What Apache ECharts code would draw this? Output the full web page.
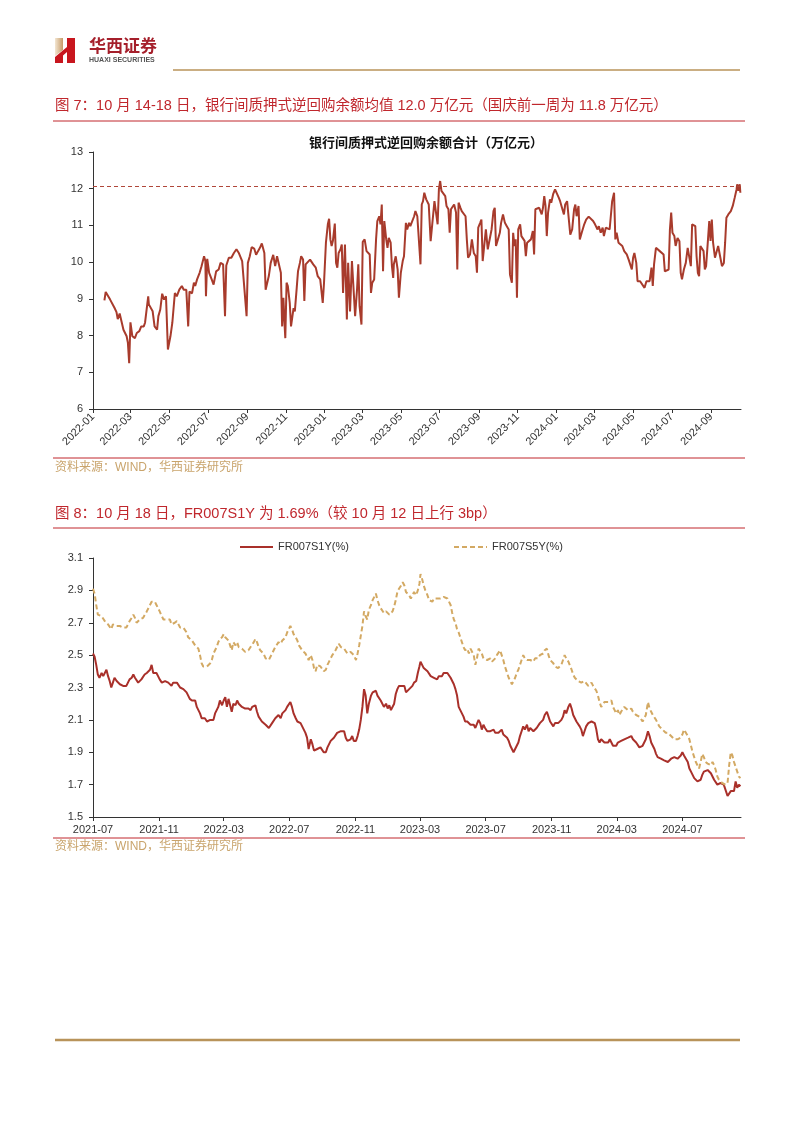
<!DOCTYPE html>
<html><head><meta charset="utf-8">
<script src="https://cdn.jsdelivr.net/npm/echarts@6/dist/echarts.min.js"></script>
<style>html,body{margin:0;padding:0;background:#fff}#c{width:802px;height:1133px}</style>
</head><body><div id="c"></div>
<script>
// ---------- Figure 7: interbank pledged reverse repo balance (trillion yuan) ----------
// day offsets since 2022-01-01
const days1 = [
18,20,27,34,37,39,42,44,48,50,
53,55,57,59,62,66,69,73,76,80,
82,85,87,88,91,94,97,101,103,106,
109,112,115,118,122,125,129,132,136,140,
143,147,150,152,156,159,161,164,168,171,
175,177,178,180,183,187,190,194,198,201,
205,208,210,214,218,222,226,230,235,238,
242,244,247,250,254,257,260,263,266,270,
272,277,280,284,287,290,292,296,298,300,
302,303,305,307,310,312,316,318,321,323,
326,328,331,333,335,338,342,345,347,351,
354,358,360,362,364,367,370,372,374,376,
378,381,383,385,387,390,392,394,397,400,
402,405,408,411,413,416,418,420,423,425,
428,431,433,436,438,440,443,446,448,451,
453,455,457,459,462,464,466,469,471,473,
474,477,480,482,485,488,490,493,495,498,
500,502,506,508,511,514,516,518,520,522,
525,527,529,532,535,538,540,543,545,547,
549,552,555,557,560,562,564,567,569,572,
574,576,579,581,584,587,589,591,594,597,
600,603,605,607,610,612,614,617,619,622,
625,628,631,633,635,638,641,643,646,649,
652,655,657,660,662,664,666,668,670,673,
675,677,680,682,684,687,690,693,695,697,
700,703,705,707,709,711,713,715,717,720,
722,725,728,731,734,736,739,742,744,747,
750,752,755,758,760,762,765,767,770,774,
777,781,784,788,791,795,797,800,803,805,
808,810,814,817,818,821,823,825,828,831,
834,837,841,844,846,849,851,853,856,858,
862,865,869,872,875,877,880,882,884,887,
890,893,896,899,901,904,907,909,911,913,
916,918,921,924,926,928,931,934,937,939,
942,944,946,949,951,953,955,957,960,962,
964,966,969,971,973,975,977,980,983,985,
988,991,994,996,998,1001,1005,1008,1011,1014,
1015,1017,1019,1020];
const repoBalance = [
8.96,9.19,8.98,8.75,8.64,8.45,8.60,8.59,8.16,8.12,
7.98,7.80,7.25,8.36,7.98,7.93,8.07,8.12,8.25,8.25,
8.35,8.39,9.07,8.85,8.89,8.66,8.25,8.16,8.53,8.71,
9.14,8.98,9.07,7.62,7.98,8.35,9.16,9.07,9.25,9.35,
9.25,9.25,8.25,9.20,9.15,9.44,9.35,9.53,9.71,9.89,
10.16,10.03,9.07,10.09,9.71,9.53,9.39,9.75,9.80,9.98,
9.94,8.53,9.91,10.12,10.12,10.25,10.35,10.24,10.03,9.98,
8.53,9.98,10.16,10.41,10.37,10.20,10.30,10.39,10.51,10.25,
9.25,9.62,9.98,10.20,9.89,10.16,10.16,9.71,8.25,9.03,
8.25,7.93,9.44,9.35,8.89,8.25,8.75,8.66,9.30,9.75,
9.98,10.16,10.07,8.94,9.94,9.94,10.07,10.03,9.94,9.85,
9.62,9.53,9.48,8.89,9.44,10.53,11.03,11.18,10.62,10.44,
10.58,11.05,9.98,9.85,10.25,10.35,10.48,9.16,10.48,8.44,
9.98,8.66,10.03,10.00,8.53,9.25,9.94,8.80,8.30,10.55,
10.62,10.30,10.35,10.21,9.16,9.44,9.53,10.62,11.12,11.25,
11.03,11.57,9.75,11.12,10.62,10.39,10.66,10.53,9.89,9.57,
9.94,10.16,9.80,9.03,9.71,10.03,10.16,11.07,10.89,11.07,
10.98,11.03,11.25,11.39,11.25,11.30,9.94,11.57,11.66,11.89,
11.71,11.71,11.57,10.57,10.62,11.66,11.71,11.03,11.98,12.21,
11.94,11.89,11.80,11.53,11.44,10.80,11.44,11.48,11.57,11.35,
9.80,11.62,11.48,11.39,11.44,11.25,10.62,10.12,10.21,10.62,
10.25,10.16,9.71,10.94,11.07,11.16,10.03,10.03,10.89,10.35,
10.30,10.89,11.39,11.48,10.44,10.62,10.80,11.07,11.30,11.07,
10.98,10.89,9.66,9.44,10.80,10.44,10.62,9.03,10.89,11.03,
10.71,10.71,10.58,10.16,10.53,10.53,10.62,10.85,10.21,11.44,
11.48,11.48,11.39,11.30,11.48,11.80,11.53,10.71,11.35,11.71,
11.62,11.85,11.98,11.94,11.75,11.66,11.66,11.30,11.57,11.66,
11.71,10.75,10.89,11.44,11.57,11.25,11.53,10.62,10.80,11.03,
11.16,11.24,11.21,11.12,11.03,10.89,10.98,10.80,10.94,10.71,
10.94,10.91,10.89,10.89,11.66,11.89,10.62,10.80,10.53,10.53,
10.44,10.30,10.21,10.07,10.03,9.80,10.12,10.25,9.98,9.48,
9.48,9.53,9.30,9.48,9.53,9.48,9.85,9.35,9.94,10.39,
10.35,10.30,10.25,10.21,9.75,9.75,9.80,10.89,11.35,10.80,
10.71,10.44,10.66,10.57,9.71,9.53,9.80,9.98,10.39,10.44,
9.89,11.03,10.98,10.98,10.16,9.71,9.62,10.44,10.39,10.30,
9.80,9.89,10.62,11.12,10.58,11.16,10.53,10.12,10.07,10.44,
10.44,9.89,9.98,10.53,11.21,11.30,11.39,11.53,11.75,11.98,
12.12,11.94,12.12,11.89];
const refLevel = 12.07;

// ---------- Figure 8: FR007 swap rates (%) ----------
// day offsets since 2021-07-01
const days2 = [
0,3,6,9,12,16,19,22,25,28,
31,34,37,40,44,47,50,53,56,59,
62,65,68,72,75,78,81,84,87,90,
93,96,100,103,106,109,112,115,118,121,
124,128,131,134,137,140,143,146,149,152,
156,159,162,165,168,171,174,177,180,184,
187,190,193,196,199,202,205,208,212,215,
218,221,224,227,230,233,236,240,243,246,
249,252,255,258,261,265,268,271,274,277,
280,283,286,289,293,296,299,302,305,308,
311,314,317,321,324,327,330,333,336,339,
342,345,349,352,355,358,361,364,367,370,
373,377,380,383,386,389,392,395,398,401,
405,408,411,414,417,420,423,426,429,433,
436,439,442,445,448,451,454,457,461,464,
467,470,473,476,479,482,485,489,492,495,
498,501,504,507,510,513,517,520,523,526,
529,532,535,538,541,545,548,551,554,557,
560,563,566,569,573,576,579,582,585,588,
591,594,597,601,604,607,
609,612,615,618,622,625,628,631,634,637,
640,643,646,649,652,655,659,662,665,668,
671,674,677,680,683,686,689,692,696,699,
702,705,708,711,714,717,720,723,726,729,
733,736,739,742,745,748,751,754,757,760,
763,766,770,773,776,779,782,785,788,791,
794,797,800,803,807,810,813,816,819,822,
825,828,831,834,837,840,844,847,850,853,
856,859,862,865,868,871,874,877,880,884,
887,890,893,896,899,902,905,908,911,914,
917,921,924,927,930,933,936,939,942,945,
948,951,954,958,961,964,967,970,973,976,
979,982,985,988,991,995,998,1001,1004,1007,
1010,1013,1016,1019,1022,1025,1028,1032,1035,1038,
1041,1044,1047,1050,1053,1056,1059,1062,1065,1069,
1072,1075,1078,1081,1084,1087,1090,1093,1096,1099,
1102,1106,1109,1112,1115,1118,1121,1124,1127,1130,
1133,1136,1139,1143,1146,1149,1152,1155,1158,1161,
1164,1167,1170,1173,1176,1180,1183,1186,1189,1192,
1195,1198,1201,1204];
const fr007s1y = [
2.51,2.49,2.44,2.38,2.36,2.39,2.37,2.38,2.41,2.37,
2.34,2.30,2.33,2.36,2.34,2.35,2.32,2.33,2.31,2.30,
2.31,2.33,2.35,2.36,2.38,2.36,2.35,2.33,2.34,2.35,
2.36,2.38,2.39,2.39,2.41,2.44,2.39,2.40,2.39,2.37,
2.35,2.33,2.34,2.34,2.33,2.33,2.32,2.31,2.33,2.32,
2.33,2.32,2.30,2.29,2.29,2.28,2.27,2.25,2.23,2.22,
2.23,2.22,2.18,2.16,2.14,2.11,2.10,2.11,2.09,2.10,
2.10,2.11,2.10,2.14,2.16,2.18,2.22,2.19,2.22,2.24,
2.18,2.23,2.24,2.15,2.20,2.19,2.22,2.20,2.20,2.18,
2.17,2.17,2.18,2.17,2.16,2.18,2.17,2.19,2.15,2.12,
2.11,2.09,2.08,2.07,2.06,2.05,2.06,2.08,2.09,2.11,
2.10,2.13,2.11,2.14,2.13,2.16,2.18,2.17,2.21,2.18,
2.14,2.11,2.09,2.08,2.08,2.06,2.04,2.02,1.99,1.92,
1.98,1.95,1.91,1.90,1.92,1.91,1.93,1.92,1.90,1.90,
1.93,1.95,1.97,1.96,1.99,2.00,2.02,2.03,2.03,2.02,
2.03,1.99,1.97,1.96,1.98,2.00,1.97,1.97,2.00,2.04,
2.10,2.18,2.29,2.25,2.14,2.20,2.25,2.27,2.26,2.28,
2.25,2.26,2.22,2.23,2.18,2.20,2.17,2.19,2.16,2.15,
2.20,2.26,2.29,2.31,2.31,2.30,2.31,2.27,2.26,2.29,
2.28,2.31,2.33,2.34,2.39,2.43,
2.46,2.44,2.42,2.43,2.40,2.39,2.37,2.38,2.36,2.37,
2.35,2.37,2.38,2.37,2.39,2.39,2.39,2.38,2.36,2.34,
2.32,2.29,2.25,2.18,2.16,2.15,2.12,2.09,2.09,2.08,
2.07,2.06,2.07,2.05,2.04,2.10,2.08,2.04,2.07,2.05,
2.03,2.04,2.03,2.03,2.04,2.02,2.03,2.02,2.03,2.04,
2.01,2.00,1.99,1.97,1.94,1.92,1.90,1.92,1.94,1.96,
2.00,2.03,2.06,2.04,2.07,2.03,2.05,2.04,2.03,2.04,
2.05,2.06,2.08,2.07,2.10,2.13,2.15,2.12,2.09,2.08,
2.06,2.08,2.07,2.08,2.07,2.10,2.12,2.16,2.14,2.18,
2.20,2.17,2.13,2.14,2.09,2.08,2.06,2.04,2.00,2.03,
2.06,2.08,2.09,2.09,2.10,2.08,2.04,1.98,1.96,1.98,
1.97,1.96,1.97,1.96,1.98,1.96,1.94,1.95,1.94,1.96,
1.96,1.97,1.96,1.98,1.97,1.99,1.98,2.00,1.98,1.97,
1.96,1.95,1.93,1.94,1.94,1.95,1.98,2.03,2.00,1.96,
1.94,1.92,1.89,1.87,1.88,1.86,1.86,1.85,1.84,1.84,
1.85,1.86,1.85,1.87,1.86,1.86,1.87,1.88,1.90,1.88,
1.87,1.84,1.80,1.78,1.76,1.74,1.73,1.72,1.71,1.73,
1.76,1.78,1.78,1.79,1.78,1.77,1.75,1.73,1.72,1.70,
1.70,1.71,1.71,1.70,1.71,1.63,1.62,1.66,1.67,1.66,
1.72,1.68,1.70,1.69];
const fr007s5y = [
2.91,2.88,2.81,2.75,2.74,2.74,2.73,2.71,2.72,2.69,
2.68,2.66,2.69,2.69,2.68,2.69,2.68,2.69,2.67,2.66,
2.67,2.68,2.71,2.73,2.75,2.73,2.70,2.70,2.72,2.71,
2.73,2.74,2.77,2.79,2.81,2.83,2.84,2.83,2.81,2.80,
2.77,2.74,2.72,2.73,2.72,2.73,2.72,2.69,2.68,2.70,
2.71,2.69,2.67,2.68,2.67,2.66,2.64,2.61,2.60,2.59,
2.58,2.56,2.55,2.54,2.50,2.45,2.43,2.44,2.43,2.44,
2.45,2.47,2.51,2.53,2.55,2.58,2.60,2.61,2.63,2.61,
2.62,2.59,2.60,2.53,2.58,2.56,2.58,2.55,2.56,2.54,
2.53,2.52,2.51,2.53,2.55,2.56,2.58,2.60,2.58,2.55,
2.53,2.52,2.51,2.48,2.48,2.47,2.48,2.51,2.53,2.55,
2.56,2.58,2.57,2.59,2.60,2.61,2.64,2.66,2.68,2.66,
2.63,2.61,2.59,2.56,2.55,2.53,2.52,2.51,2.50,2.47,
2.50,2.47,2.42,2.40,2.44,2.45,2.43,2.42,2.40,2.41,
2.44,2.46,2.48,2.50,2.51,2.53,2.55,2.57,2.55,2.54,
2.54,2.53,2.51,2.50,2.52,2.52,2.50,2.47,2.51,2.56,
2.62,2.68,2.77,2.74,2.72,2.78,2.81,2.84,2.86,2.88,
2.84,2.81,2.79,2.78,2.76,2.77,2.76,2.75,2.74,2.77,
2.80,2.84,2.89,2.91,2.93,2.95,2.93,2.89,2.88,2.87,
2.85,2.86,2.89,2.87,2.90,2.94,
3.00,2.97,2.93,2.90,2.87,2.84,2.85,2.83,2.85,2.84,
2.85,2.84,2.85,2.85,2.86,2.85,2.85,2.84,2.81,2.76,
2.72,2.70,2.66,2.64,2.61,2.58,2.55,2.53,2.54,2.51,
2.54,2.53,2.50,2.44,2.48,2.54,2.53,2.51,2.48,2.48,
2.47,2.47,2.48,2.46,2.47,2.48,2.50,2.51,2.53,2.50,
2.47,2.43,2.39,2.36,2.34,2.32,2.34,2.36,2.39,2.41,
2.44,2.47,2.50,2.48,2.47,2.48,2.47,2.47,2.46,2.48,
2.48,2.48,2.50,2.50,2.51,2.53,2.54,2.50,2.47,2.46,
2.45,2.43,2.42,2.42,2.43,2.44,2.47,2.50,2.48,2.46,
2.45,2.41,2.38,2.36,2.35,2.34,2.35,2.33,2.32,2.34,
2.33,2.31,2.32,2.33,2.31,2.30,2.28,2.25,2.21,2.18,
2.19,2.21,2.22,2.21,2.22,2.22,2.18,2.16,2.14,2.16,
2.13,2.15,2.16,2.18,2.17,2.16,2.17,2.17,2.15,2.14,
2.13,2.13,2.12,2.11,2.09,2.08,2.13,2.21,2.17,2.15,
2.13,2.12,2.10,2.08,2.06,2.05,2.04,2.03,2.02,2.02,
2.01,2.00,1.99,1.98,1.97,1.98,1.97,1.99,2.01,2.04,
2.03,2.00,1.98,1.94,1.90,1.87,1.84,1.82,1.80,1.84,
1.89,1.87,1.84,1.83,1.84,1.82,1.84,1.82,1.79,1.75,
1.73,1.72,1.71,1.71,1.70,1.71,1.82,1.90,1.88,1.84,
1.84,1.78,1.75,1.74];
const legendNames = ['FR007S1Y(%)', 'FR007S5Y(%)'];

// ---------- axis categories (daily calendar) ----------
function dailyCats(y, m, d, n) {
  const out = []; const t0 = Date.UTC(y, m - 1, d);
  for (let i = 0; i < n; i++) out.push(new Date(t0 + i * 86400000).toISOString().slice(0, 10));
  return out;
}
const cats1 = dailyCats(2022, 1, 1, 1022);   // 2022-01-01 .. 2024-10-18
const cats2 = dailyCats(2021, 7, 1, 1206);   // 2021-07-01 .. 2024-10-18
const oddMonthStart = (i, v) => v.endsWith('-01') && (parseInt(v.slice(5, 7), 10) % 2 === 1);
const quadMonthStart = (i, v) => v.endsWith('-01') && [3, 7, 11].indexOf(parseInt(v.slice(5, 7), 10)) >= 0;

const FONT = '"Liberation Sans", Arial, "Noto Sans CJK SC", sans-serif';
const RED = '#C0272D', GOLD = '#B8935A', SRC = '#C9A46C';
const C1 = '#A83B2C', C_S1Y = '#A9302A', C_S5Y = '#D3A963';
const axisLine = { color: '#333', width: 1 };

const chart = echarts.init(document.getElementById('c'), null, { renderer: 'canvas' });

function txt(x, y, text, font, fill, align) {
  return { type: 'text', x: x, y: y, silent: true,
    style: { text: text, font: font, fill: fill, textAlign: align || 'left', textVerticalAlign: 'middle', align: align || 'left', verticalAlign: 'middle' } };
}
function hline(x1, x2, y, color, w, dash) {
  return { type: 'line', silent: true, shape: { x1: x1, y1: y, x2: x2, y2: y }, style: { stroke: color, lineWidth: w, lineDash: dash || null } };
}

const option = {
  animation: false,
  backgroundColor: '#fff',
  textStyle: { fontFamily: FONT },
  grid: [
    { left: 93, top: 152, width: 648, height: 257, containLabel: false, outerBoundsMode: 'none' },
    { left: 93, top: 558, width: 648, height: 259, containLabel: false, outerBoundsMode: 'none' }
  ],
  xAxis: [
    { gridIndex: 0, type: 'category', data: cats1, boundaryGap: false,
      axisLine: { lineStyle: axisLine },
      axisTick: { show: true, interval: oddMonthStart, length: 4, lineStyle: axisLine },
      axisLabel: { interval: oddMonthStart, formatter: v => v.slice(0, 7), rotate: 45, fontSize: 11, color: '#333',
        margin: 6, fontFamily: FONT, hideOverlap: false },
      splitLine: { show: false } },
    { gridIndex: 1, type: 'category', data: cats2, boundaryGap: false,
      axisLine: { lineStyle: axisLine },
      axisTick: { show: true, interval: quadMonthStart, length: 4, lineStyle: axisLine },
      axisLabel: { interval: quadMonthStart, formatter: v => v.slice(0, 7), fontSize: 11, color: '#333',
        margin: 7, fontFamily: FONT, hideOverlap: false },
      splitLine: { show: false } }
  ],
  yAxis: [
    { gridIndex: 0, type: 'value', min: 6, max: 13, interval: 1,
      axisLine: { show: true, lineStyle: axisLine },
      axisTick: { show: true, length: 4, lineStyle: axisLine },
      axisLabel: { fontSize: 11, color: '#333', margin: 10, fontFamily: FONT },
      splitLine: { show: false } },
    { gridIndex: 1, type: 'value', min: 1.5, max: 3.1, interval: 0.2,
      axisLine: { show: true, lineStyle: axisLine },
      axisTick: { show: true, length: 4, lineStyle: axisLine },
      axisLabel: { fontSize: 11, color: '#333', margin: 10, fontFamily: FONT, formatter: v => v.toFixed(1) },
      splitLine: { show: false } }
  ],
  series: [
    { type: 'line', name: '银行间质押式逆回购余额合计', xAxisIndex: 0, yAxisIndex: 0,
      data: days1.map((d, i) => [cats1[d], repoBalance[i]]),
      symbol: 'none', showSymbol: false,
      lineStyle: { color: C1, width: 2 }, itemStyle: { color: C1 },
      markLine: { silent: true, symbol: ['none', 'none'], label: { show: false },
        lineStyle: { color: '#B0473A', type: [4, 3], width: 1 }, data: [{ yAxis: refLevel }] } },
    { type: 'line', name: legendNames[0], xAxisIndex: 1, yAxisIndex: 1,
      data: days2.map((d, i) => [cats2[d], fr007s1y[i]]),
      symbol: 'none', showSymbol: false,
      lineStyle: { color: C_S1Y, width: 2 }, itemStyle: { color: C_S1Y } },
    { type: 'line', name: legendNames[1], xAxisIndex: 1, yAxisIndex: 1,
      data: days2.map((d, i) => [cats2[d], fr007s5y[i]]),
      symbol: 'none', showSymbol: false,
      lineStyle: { color: C_S5Y, width: 2, type: [5, 3] }, itemStyle: { color: C_S5Y } }
  ],
  graphic: [
    // logo
    { type: 'polygon', silent: true, shape: { points: [[55, 38], [63, 38], [63, 50], [55, 56]] },
      style: { fill: { type: 'linear', x: 0, y: 0, x2: 1, y2: 0, colorStops: [{ offset: 0, color: '#F3E6D2' }, { offset: 1, color: '#C69B68' }] } } },
    { type: 'polygon', silent: true, shape: { points: [[55, 57], [67, 47], [67, 52], [63, 55.5], [63, 63], [55, 63]] }, style: { fill: '#C8161E' } },
    { type: 'polygon', silent: true, shape: { points: [[67, 38], [75, 38], [75, 63], [67, 63]] }, style: { fill: '#C8161E' } },
    txt(89, 46, '华西证券', 'bold 17px "Noto Sans CJK SC", sans-serif', '#A51F2B'),
    txt(89, 60, 'HUAXI SECURITIES', 'bold 7px "Liberation Sans", Arial, sans-serif', '#555'),
    hline(173, 740, 70, GOLD, 1.5),
    // figure 7 header
    txt(55, 106, '图 7：10 月 14-18 日，银行间质押式逆回购余额均值 12.0 万亿元（国庆前一周为 11.8 万亿元）', '14.5px ' + FONT, RED),
    hline(53, 745, 121, RED, 1),
    txt(426, 143, '银行间质押式逆回购余额合计（万亿元）', 'bold 13px ' + FONT, '#111', 'center'),
    hline(53, 745, 458, RED, 1),
    txt(55, 468, '资料来源：WIND，华西证券研究所', '12px ' + FONT, SRC),
    // figure 8 header
    txt(55, 514, '图 8：10 月 18 日，FR007S1Y 为 1.69%（较 10 月 12 日上行 3bp）', '14.5px ' + FONT, RED),
    hline(53, 745, 528, RED, 1),
    // figure 8 legend
    hline(240, 273, 547, C_S1Y, 2),
    txt(278, 547, legendNames[0], '11px ' + FONT, '#333'),
    hline(454, 487, 547, C_S5Y, 2, [5, 3]),
    txt(492, 547, legendNames[1], '11px ' + FONT, '#333'),
    hline(53, 745, 838, RED, 1),
    txt(55, 847, '资料来源：WIND，华西证券研究所', '12px ' + FONT, SRC),
    // footer rule
    hline(55, 740, 1040, GOLD, 2.5)
  ]
};
chart.setOption(option);
</script>
</body></html>
